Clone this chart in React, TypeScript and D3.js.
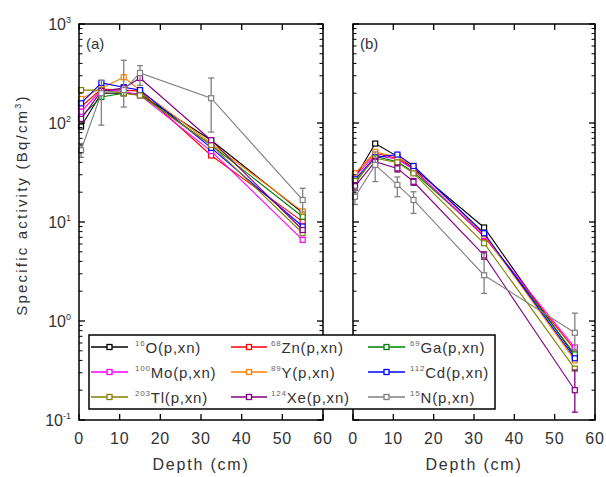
import React from "react";
import * as d3 from "d3";

// depths (cm) where the samples were taken
const depths = [0.5, 5.5, 11, 15, 32.5, 55];

// legend order: nuclide mass number, symbol, colour
const masses = ["16", "68", "69", "100", "89", "112", "203", "124", "15"];
const symbols = ["O", "Zn", "Ga", "Mo", "Y", "Cd", "Tl", "Xe", "N"];
const colors = ["#000000", "#ff0000", "#008000", "#ff00ff", "#ff8000", "#0000ff", "#808000", "#800080", "#808080"];

// panel (a) specific activity, Bq/cm3
const a_O16 = [92, 200, 200, 195, 67, 12.4];
const a_Zn68 = [146, 220, 215, 210, 47, 10.1];
const a_Ga69 = [116, 183, 200, 195, 60, 11.3];
const a_Mo100 = [130, 215, 210, 190, 52, 6.6];
const a_Y89 = [175, 225, 290, 215, 62, 12.8];
const a_Cd112 = [158, 254, 230, 215, 56, 9.0];
const a_Tl203 = [215, 215, 200, 190, 60, 7.7];
const a_Xe124 = [110, 210, 225, 285, 67, 8.3];
const a_N15 = [53, 200, 215, 320, 178, 16.7];
const a_N15_lo = [45, 95, 145, 240, 81, 12.6];
const a_N15_hi = [62, 270, 430, 380, 285, 21.9];

// panel (b)
const b_O16 = [27.8, 62, 46, 34.8, 8.8, 0.44];
const b_Zn68 = [31, 49.5, 44, 34, 7.1, 0.51];
const b_Ga69 = [24.7, 46, 40.6, 32, 7.4, 0.46];
const b_Mo100 = [29, 47, 43, 34, 7.2, 0.54];
const b_Y89 = [31, 51, 45, 36.8, 7.5, 0.4];
const b_Cd112 = [27, 45, 48, 36.8, 7.7, 0.42];
const b_Tl203 = [26, 44, 40, 31, 6.1, 0.33];
const b_Xe124 = [23, 40.6, 34.8, 25.5, 4.6, 0.2];
const b_Xe124_lo = [21, 37, 32, 23.5, 4.2, 0.12];
const b_Xe124_hi = [25, 44, 37.5, 27.5, 5.0, 0.32];
const b_N15 = [18, 37.7, 23.7, 16.7, 2.9, 0.76];
const b_N15_lo = [15, 25.6, 18, 12.2, 1.9, 0.51];
const b_N15_hi = [22, 51, 28.5, 20.2, 4.8, 1.2];

const panelA = [a_O16, a_Zn68, a_Ga69, a_Mo100, a_Y89, a_Cd112, a_Tl203, a_Xe124, a_N15];
const panelB = [b_O16, b_Zn68, b_Ga69, b_Mo100, b_Y89, b_Cd112, b_Tl203, b_Xe124, b_N15];

const xTicks = [0, 10, 20, 30, 40, 50, 60];
const yExps = [-1, 0, 1, 2, 3];

const top = 24, bottom = 420;
const font = "'Liberation Sans', Arial, sans-serif";
const txt = "#333";

const y = d3.scaleLog().domain([0.1, 1000]).range([bottom, top]);

function Panel({ left, right, data, errs, label, showY }) {
  const x = d3.scaleLinear().domain([0, 60]).range([left, right]);
  const line = d3.line<number>().x((d, i) => x(depths[i])).y(d => y(d));
  const minor: number[] = [];
  for (let e = -1; e < 3; e++) for (let m = 2; m < 10; m++) minor.push(m * Math.pow(10, e));
  return (
    <g>
      {/* series */}
      {data.map((vals, k) => (
        <g key={k}>
          <path d={line(vals)} fill="none" stroke={colors[k]} strokeWidth={1.1} />
          {errs.filter(e => e.k === k).map((e, j) => (
            <g key={j} stroke={colors[k]} strokeWidth={1.3}>
              {vals.map((v, i) => (
                <g key={i}>
                  <line x1={x(depths[i])} x2={x(depths[i])} y1={y(e.lo[i])} y2={y(e.hi[i])} />
                  <line x1={x(depths[i]) - 3} x2={x(depths[i]) + 3} y1={y(e.lo[i])} y2={y(e.lo[i])} />
                  <line x1={x(depths[i]) - 3} x2={x(depths[i]) + 3} y1={y(e.hi[i])} y2={y(e.hi[i])} />
                </g>
              ))}
            </g>
          ))}
          {vals.map((v, i) => (
            <rect key={i} x={x(depths[i]) - 2.5} y={y(v) - 2.5} width={5} height={5}
              fill="white" stroke={colors[k]} strokeWidth={1.2} />
          ))}
        </g>
      ))}
      {/* frame */}
      <rect x={left} y={top} width={right - left} height={bottom - top} fill="none" stroke="#000" strokeWidth={1.5} />
      {xTicks.map(t => (
        <g key={t}>
          <line x1={x(t)} x2={x(t)} y1={bottom} y2={bottom - 6} stroke="#000" strokeWidth={1.3} />
          <line x1={x(t)} x2={x(t)} y1={top} y2={top + 6} stroke="#000" strokeWidth={1.3} />
          <text x={x(t)} y={bottom + 24} textAnchor="middle" fontSize={16} letterSpacing={0.8} fill={txt} fontFamily={font}>{t}</text>
        </g>
      ))}
      {yExps.map(e => (
        <g key={e}>
          <line x1={left} x2={left + 6} y1={y(Math.pow(10, e))} y2={y(Math.pow(10, e))} stroke="#000" strokeWidth={1.3} />
          <line x1={right} x2={right - 6} y1={y(Math.pow(10, e))} y2={y(Math.pow(10, e))} stroke="#000" strokeWidth={1.3} />
          {showY && (
            <text x={left - 8} y={y(Math.pow(10, e)) + 6} textAnchor="end" fontSize={16} fill={txt} fontFamily={font}>
              10<tspan dy={-7} fontSize={9}>{e}</tspan>
            </text>
          )}
        </g>
      ))}
      {minor.map(v => (
        <g key={v}>
          <line x1={left} x2={left + 3.5} y1={y(v)} y2={y(v)} stroke="#000" strokeWidth={1} />
          <line x1={right} x2={right - 3.5} y1={y(v)} y2={y(v)} stroke="#000" strokeWidth={1} />
        </g>
      ))}
      <text x={left + 7} y={top + 25} fontSize={15} fill={txt} fontFamily={font}>{label}</text>
      <text x={(left + right) / 2} y={bottom + 50} textAnchor="middle" fontSize={16} letterSpacing={1.8} fill={txt} fontFamily={font}>Depth (cm)</text>
    </g>
  );
}

function Legend() {
  const cols = [{ l: 91, r: 128, t: 135 }, { l: 231, r: 267, t: 271 }, { l: 368, r: 405, t: 410 }];
  const rows = [347, 372, 397];
  return (
    <g>
      <rect x={89} y={335} width={406} height={74} fill="white" stroke="#000" strokeWidth={1.5} />
      {masses.map((m, k) => {
        const c = cols[k % 3], ry = rows[Math.floor(k / 3)];
        const mid = (c.l + c.r) / 2;
        return (
          <g key={k}>
            <line x1={c.l} x2={c.r} y1={ry} y2={ry} stroke={colors[k]} strokeWidth={1.5} />
            <rect x={mid - 2.5} y={ry - 2.5} width={5} height={5} fill="white" stroke={colors[k]} strokeWidth={1.3} />
            <text x={c.t} y={ry + 6} fontSize={15} fill={txt} fontFamily={font} letterSpacing={0.8}>
              <tspan dy={-7} fontSize={8} fill="#666">{m}</tspan>
              <tspan dy={7}>{symbols[k]}(p,xn)</tspan>
            </text>
          </g>
        );
      })}
    </g>
  );
}

export default function App() {
  return (
    <svg width={606} height={477} style={{ position: "absolute", left: 0, top: 0, background: "white" }}>
      <Panel left={79} right={323} data={panelA} label="(a)" showY={true}
        errs={[{ k: 8, lo: a_N15_lo, hi: a_N15_hi }]} />
      <Panel left={353} right={595} data={panelB} label="(b)" showY={false}
        errs={[{ k: 7, lo: b_Xe124_lo, hi: b_Xe124_hi }, { k: 8, lo: b_N15_lo, hi: b_N15_hi }]} />
      <text transform="translate(27,205) rotate(-90)" textAnchor="middle" fontSize={15} letterSpacing={2.2} fill={txt} fontFamily={font}>
        Specific activity (Bq/cm<tspan dy={-6} fontSize={9}>3</tspan><tspan dy={6}>)</tspan>
      </text>
      <Legend />
    </svg>
  );
}
